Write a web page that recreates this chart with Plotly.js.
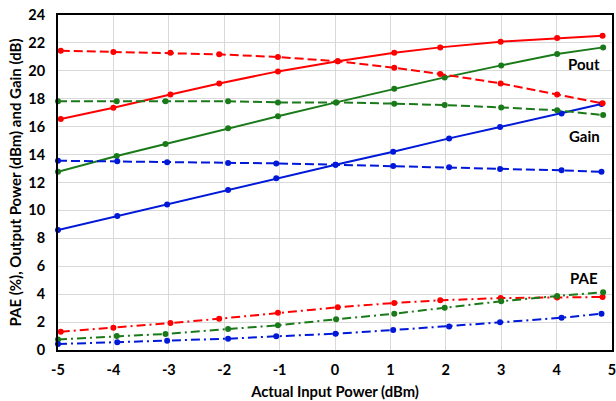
<!DOCTYPE html>
<html>
<head>
<meta charset="utf-8">
<script src="https://cdn.plot.ly/plotly-3.0.1.min.js"></script>
<style>html,body{margin:0;padding:0;background:#fff;}#chart{width:616px;height:401px;}</style>
</head>
<body>
<div id="chart"></div>
<script>
// Input power (actual, dBm) per condition
const xRed   = [-4.95, -4.0, -2.97, -2.09, -1.03, 0.05, 1.07, 1.9, 2.99, 4.01, 4.83];
const xGreen = [-5.0, -3.94, -3.06, -1.93, -1.03, 0.02, 1.07, 1.98, 3.0, 4.01, 4.84];
const xBlue  = [-5.0, -3.93, -3.03, -1.93, -1.06, 0.01, 1.05, 2.06, 2.98, 4.09, 4.81];

// Output power (dBm)
const poutRed   = [16.55, 17.36, 18.31, 19.1, 19.96, 20.68, 21.3, 21.68, 22.09, 22.35, 22.52];
const poutGreen = [12.77, 13.9, 14.76, 15.88, 16.74, 17.74, 18.72, 19.53, 20.39, 21.2, 21.68];
const poutBlue  = [8.6, 9.6, 10.43, 11.46, 12.3, 13.27, 14.2, 15.16, 15.97, 16.95, 17.62];

// Gain (dB)
const gainRed   = [21.44, 21.35, 21.3, 21.18, 20.99, 20.68, 20.22, 19.77, 19.1, 18.31, 17.67];
const gainGreen = [17.82, 17.82, 17.82, 17.82, 17.74, 17.74, 17.65, 17.55, 17.38, 17.17, 16.83];
const gainBlue  = [13.56, 13.52, 13.45, 13.4, 13.37, 13.27, 13.18, 13.09, 12.97, 12.87, 12.77];

// PAE (%)
const paeRed   = [1.31, 1.6, 1.93, 2.24, 2.67, 3.06, 3.37, 3.56, 3.72, 3.77, 3.8];
const paeGreen = [0.76, 1.0, 1.15, 1.5, 1.77, 2.2, 2.6, 3.03, 3.49, 3.87, 4.13];
const paeBlue  = [0.43, 0.55, 0.67, 0.81, 0.98, 1.17, 1.43, 1.69, 1.98, 2.31, 2.6];

const xTicks = [-5, -4, -3, -2, -1, 0, 1, 2, 3, 4, 5];
const yTicks = [0, 2, 4, 6, 8, 10, 12, 14, 16, 18, 20, 22, 24];

const seriesLabels = [
  {text: 'Pout', x: 4.5, y: 20.5},
  {text: 'Gain', x: 4.5, y: 15.3},
  {text: 'PAE', x: 4.5, y: 5.15}
];

const RED = '#ff0000', GREEN = '#1a7a1a', BLUE = '#0018d8';
const DASH = '9px,4px';
const DASHDOT = '9px,4px,2px,4px';

function tr(x, y, color, dash) {
  return {
    x: x, y: y, type: 'scatter', mode: 'lines+markers',
    line: {color: color, width: 2, dash: dash},
    marker: {color: color, size: 6, symbol: 'circle'},
    hoverinfo: 'skip', cliponaxis: false
  };
}

const data = [
  tr(xRed, poutRed, RED, 'solid'),
  tr(xGreen, poutGreen, GREEN, 'solid'),
  tr(xBlue, poutBlue, BLUE, 'solid'),
  tr(xRed, gainRed, RED, DASH),
  tr(xGreen, gainGreen, GREEN, DASH),
  tr(xBlue, gainBlue, BLUE, DASH),
  tr(xRed, paeRed, RED, DASHDOT),
  tr(xGreen, paeGreen, GREEN, DASHDOT),
  tr(xBlue, paeBlue, BLUE, DASHDOT)
];

const FONT = 'Lato, "Open Sans", sans-serif';

const layout = {
  width: 616, height: 401,
  margin: {l: 58, r: 4, t: 15, b: 51},
  paper_bgcolor: '#ffffff', plot_bgcolor: '#ffffff',
  showlegend: false,
  font: {family: FONT, size: 14, color: '#000', weight: 700},
  xaxis: {
    range: [-5, 5], tickvals: xTicks, ticktext: xTicks.map(String),
    showgrid: true, gridcolor: '#d9d9d9', gridwidth: 1,
    zeroline: false, showline: true, linecolor: '#000', linewidth: 2, mirror: true,
    ticks: '', ticklabelstandoff: 6, ticklabeloverflow: 'allow',
    tickfont: {family: FONT, size: 14.5, color: '#000', weight: 700},
    title: {text: 'Actual Input Power (dBm)', font: {family: FONT, size: 14.8, color: '#000', weight: 700}, standoff: 9}
  },
  yaxis: {
    range: [0, 24], tickvals: yTicks, ticktext: yTicks.map(String),
    showgrid: true, gridcolor: '#d9d9d9', gridwidth: 1,
    zeroline: false, showline: true, linecolor: '#000', linewidth: 2, mirror: true,
    ticks: '', ticklabelstandoff: 8,
    tickfont: {family: FONT, size: 14.5, color: '#000', weight: 700},
    title: {text: 'PAE (%), Output Power (dBm) and Gain (dB)', font: {family: FONT, size: 15, color: '#000', weight: 700}, standoff: 3}
  },
  annotations: seriesLabels.map(l => ({
    x: l.x, y: l.y, xref: 'x', yref: 'y', text: l.text, showarrow: false,
    font: {family: FONT, size: 15, color: '#000', weight: 700}
  }))
};

Plotly.newPlot('chart', data, layout, {staticPlot: true, displayModeBar: false});
</script>
</body>
</html>
